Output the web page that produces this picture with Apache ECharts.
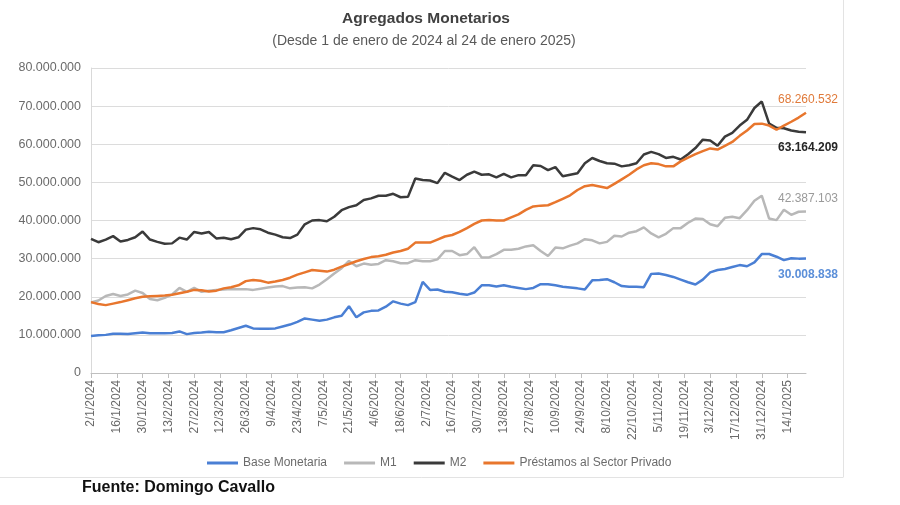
<!DOCTYPE html>
<html>
<head>
<meta charset="utf-8">
<script src="https://cdn.jsdelivr.net/npm/echarts@6/dist/echarts.min.js"></script>
<style>html,body{margin:0;padding:0;background:#fff;}#c{width:900px;height:505px;}</style>
</head>
<body>
<div id="c"></div>
<script>
// Series values in millions, sampled every 4 days from 2/1/2024 to 24/1/2025
const sampleStepDays = 4;
const baseMonetaria = [9.7,9.9,10.0,10.3,10.3,10.2,10.4,10.6,10.4,10.4,
10.4,10.5,10.9,10.2,10.5,10.6,10.8,10.7,10.7,11.2,
11.8,12.4,11.7,11.6,11.6,11.7,12.2,12.7,13.4,14.3,
14.0,13.7,14.0,14.6,15.0,17.5,14.6,15.9,16.3,16.4,
17.4,18.8,18.2,17.8,18.6,23.9,21.8,21.9,21.3,21.2,
20.8,20.5,21.1,23.0,23.0,22.7,23.0,22.6,22.3,22.0,
22.3,23.3,23.3,23.0,22.6,22.4,22.2,21.9,24.3,24.4,
24.6,23.8,22.8,22.6,22.6,22.5,26.0,26.1,25.7,25.2,
24.5,23.8,23.2,24.5,26.4,27.0,27.3,27.8,28.3,28.0,
29.0,31.2,31.2,30.5,29.6,30.1,30.0,30.008838];
const m1 = [18.5,19.0,20.2,20.7,20.2,20.6,21.6,21.0,19.4,19.1,
19.7,20.6,22.3,21.3,22.3,21.3,21.6,21.8,21.9,22.0,
22.0,22.0,21.8,22.1,22.4,22.7,22.8,22.2,22.4,22.5,
22.2,23.2,24.6,26.1,27.5,29.4,28.0,28.7,28.4,28.6,
29.6,29.3,28.8,28.8,29.6,29.3,29.3,29.8,32.0,32.0,
30.9,31.2,33.0,30.3,30.3,31.2,32.3,32.3,32.6,33.2,
33.5,32.0,30.7,32.9,32.7,33.4,34.0,35.1,34.8,34.0,
34.4,36.0,35.8,36.8,37.2,38.2,36.6,35.6,36.5,38.0,
38.0,39.4,40.5,40.4,39.0,38.5,40.7,41.0,40.6,42.7,
45.2,46.5,40.5,40.1,42.8,41.5,42.3,42.387103];
const m2 = [35.2,34.3,35.0,35.9,34.5,34.9,35.6,37.1,35.0,34.4,
33.9,34.0,35.5,35.0,37.0,36.6,37.0,35.3,35.5,35.1,
35.6,37.6,38.0,37.7,36.8,36.3,35.6,35.4,36.3,39.0,
40.0,40.1,39.8,41.0,42.7,43.5,44.0,45.4,45.8,46.5,
46.5,47.0,46.1,46.2,51.0,50.6,50.5,49.8,52.5,51.5,
50.6,52.0,52.8,52.0,52.1,51.3,52.2,51.3,51.9,51.9,
54.5,54.3,53.2,54.0,51.6,52.0,52.4,55.0,56.4,55.6,
55.0,54.9,54.2,54.5,55.0,57.3,58.0,57.4,56.4,56.7,
56.0,57.4,59.0,61.2,61.0,59.6,62.0,63.0,64.9,66.4,
69.5,71.2,65.4,64.3,64.2,63.6,63.3,63.164209];
const prestamos = [18.6,18.1,17.8,18.2,18.6,19.1,19.6,20.0,20.1,20.2,
20.3,20.5,20.9,21.3,21.8,21.7,21.4,21.6,22.2,22.5,
23.0,24.1,24.4,24.2,23.7,24.0,24.4,25.0,25.8,26.4,
27.0,26.8,26.6,27.1,27.9,28.6,29.3,29.9,30.4,30.6,
31.0,31.6,32.0,32.6,34.2,34.2,34.2,35.0,35.8,36.2,
37.0,38.0,39.1,40.0,40.1,40.0,40.0,40.8,41.6,42.8,
43.7,43.9,44.0,44.8,45.7,46.6,48.0,49.0,49.3,48.9,
48.5,49.6,50.8,52.0,53.4,54.5,55.0,54.8,54.2,54.2,
55.5,56.5,57.4,58.2,58.9,58.6,59.6,60.6,62.2,63.6,
65.3,65.4,64.9,63.8,64.9,65.9,67.0,68.260532];
const seriesNames = ['Base Monetaria','M1','M2','Préstamos al Sector Privado'];

// Daily category labels
const startUTC = Date.UTC(2024,0,2);
const nDays = 389;
const categories = [];
for (let d = 0; d < nDays; d++) {
  const dt = new Date(startUTC + d*86400000);
  categories.push(dt.getUTCDate() + '/' + (dt.getUTCMonth()+1) + '/' + dt.getUTCFullYear());
}

function fmt(n){ return Math.round(n).toString().replace(/\B(?=(\d{3})+(?!\d))/g,'.'); }

function build(vals, labelPos, dist, labelColor, weight){
  const arr = new Array(nDays).fill(null);
  vals.forEach((v,i)=>{ arr[i*sampleStepDays] = v; });
  const last = (vals.length-1)*sampleStepDays;
  arr[last] = {value: vals[vals.length-1], label:{show:true, position:labelPos, distance:dist,
    offset:[2,0],
    formatter: p => fmt(p.value*1e6), color: labelColor, fontSize: 12, fontWeight: weight,
    fontFamily:'Liberation Sans'}};
  return arr;
}

const FONT = 'Liberation Sans';
const chart = echarts.init(document.getElementById('c'));
const colors = ['#4a7fd4','#b8b8b8','#3a3a3a','#e8762d'];
function lineSeries(idx, vals, pos, dist, lc, w){
  return {name:seriesNames[idx],type:'line',data:build(vals,pos,dist,lc,w),connectNulls:true,
    showSymbol:true,symbol:'circle',symbolSize:0,
    lineStyle:{width:2.5,color:colors[idx]},itemStyle:{color:colors[idx]}};
}
chart.setOption({
  animation:false,
  backgroundColor:'#fff',
  color: colors,
  textStyle:{fontFamily:FONT},
  grid:{left:91,right:94,top:68,bottom:132,containLabel:false},
  legend:{
    top:452,left:202,itemWidth:31,itemHeight:3,itemGap:17,icon:'rect',
    textStyle:{fontSize:12,color:'#6b6b6b',fontFamily:FONT},
    data:seriesNames
  },
  xAxis:{
    type:'category',data:categories,boundaryGap:false,
    axisLine:{lineStyle:{color:'#bfbfbf'}},
    axisTick:{interval:13,length:5,lineStyle:{color:'#bfbfbf'}},
    axisLabel:{interval:13,rotate:90,fontSize:12,color:'#6b6b6b',margin:7,fontFamily:FONT},
    splitLine:{show:false}
  },
  yAxis:{
    type:'value',min:0,max:80,interval:10,
    axisLine:{show:true,lineStyle:{color:'#d9d9d9'}},
    axisTick:{show:false},
    axisLabel:{formatter:v=>fmt(v*1e6),fontSize:12.5,color:'#6b6b6b',margin:10,fontFamily:FONT},
    splitLine:{lineStyle:{color:'#dcdcdc',width:1}}
  },
  series:[
    lineSeries(0, baseMonetaria,'bottom',10,'#5b8fd9','bold'),
    lineSeries(1, m1,'top',7,'#9a9a9a','normal'),
    lineSeries(2, m2,'bottom',10,'#262626','bold'),
    lineSeries(3, prestamos,'top',7,'#e07a3a','normal')
  ],
  graphic:[
    {type:'text',x:426,y:19,style:{text:'Agregados Monetarios',font:'bold 15.5px "Liberation Sans"',fill:'#404040',textAlign:'center',textVerticalAlign:'middle'}},
    {type:'text',x:424,y:41,style:{text:'(Desde 1 de enero de 2024 al 24 de enero 2025)',font:'14px "Liberation Sans"',fill:'#595959',textAlign:'center',textVerticalAlign:'middle'}},
    {type:'line',shape:{x1:843.5,y1:0,x2:843.5,y2:477},style:{stroke:'#e3e3e3',lineWidth:1}},
    {type:'line',shape:{x1:0,y1:477.5,x2:843.5,y2:477.5},style:{stroke:'#e3e3e3',lineWidth:1}},
    {type:'text',x:82,y:488,style:{text:'Fuente: Domingo Cavallo',font:'bold 16px "Liberation Sans"',fill:'#111',textAlign:'left',textVerticalAlign:'middle'}}
  ]
});
</script>
</body>
</html>
